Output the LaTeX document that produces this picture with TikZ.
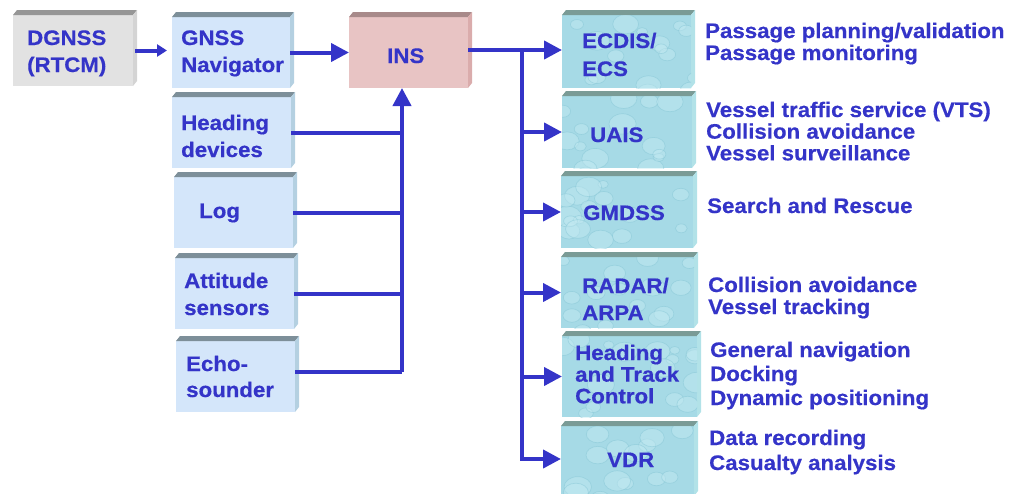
\documentclass[tikz,border=0pt]{standalone}
\usepackage{fontspec}
\setmainfont{Liberation Sans}[FakeStretch=1.06, BoldFeatures={FakeBold=0.5}]
\usetikzlibrary{arrows.meta}
\definecolor{ink}{RGB}{52,52,200}
\definecolor{grayF}{RGB}{226,226,226}
\definecolor{grayT}{RGB}{150,150,150}
\definecolor{grayS}{RGB}{212,212,212}
\definecolor{blueF}{RGB}{212,230,250}
\definecolor{blueT}{RGB}{125,143,153}
\definecolor{blueS}{RGB}{180,208,225}
\definecolor{pinkF}{RGB}{232,196,196}
\definecolor{pinkT}{RGB}{168,138,138}
\definecolor{pinkS}{RGB}{218,172,172}
\definecolor{tealF}{RGB}{166,218,230}
\definecolor{tealT}{RGB}{122,155,150}
\definecolor{tealS}{RGB}{178,226,232}
\definecolor{tealL}{RGB}{196,234,242}
\definecolor{tealD}{RGB}{130,196,212}
\newcommand\mltext[1]{\begin{tabular}[t]{@{}l@{}}#1\end{tabular}}
\newcommand\boxthree[8]{%
  \node[facebox, fill=#6, minimum width={(#4)-(#2)}, minimum height={(#5)-(#3)}] (#1) at ({((#2)+(#4))/2},{((#3)+(#5))/2}) {};
  \fill[#7] (#1.north west) -- ++(4,-5) -- ([shift={(4,-5)}]#1.north east) -- (#1.north east) -- cycle;
  \fill[#8] (#1.north east) -- ++(4,-5) -- ([shift={(4,-5)}]#1.south east) -- (#1.south east) -- cycle;
}
\newcommand\water[1]{%
  \begin{scope}
    \clip (#1.north west) rectangle (#1.south east);
    \begin{scope}[shift={(#1.north west)}]
      \foreach \i in {1,...,16}{%
        \pgfmathsetmacro\wx{rnd*135}%
        \pgfmathsetmacro\wy{rnd*80}%
        \pgfmathsetmacro\wr{5+rnd*9}%
        \draw[tealD, line width=0.7pt, fill=tealL, opacity=0.45] (\wx,\wy) ellipse [x radius=\wr, y radius=0.75*\wr];
      }
    \end{scope}
  \end{scope}
}
\tikzset{
  facebox/.style={rectangle, draw=none, inner sep=0pt, outer sep=0pt},
  txt/.style={font=\fontsize{21}{#1}\selectfont\bfseries, text=ink, anchor=base west, inner sep=0pt},
  conn/.style={draw=ink, line width=4pt},
  arr/.style={conn, -{Triangle[length=18pt,width=18pt]}},
  sarr/.style={conn, -{Triangle[length=10pt,width=12pt]}}
}
\begin{document}
\begin{tikzpicture}[x=1pt,y=-1pt]
\pgfmathsetseed{7}
\useasboundingbox (0,0) rectangle (1010,493);
% boxes
\boxthree{dgnss}{13}{15}{133}{86}{grayF}{grayT}{grayS}
\boxthree{gnss}{172}{17}{290}{88}{blueF}{blueT}{blueS}
\boxthree{ins}{349}{17}{468}{88}{pinkF}{pinkT}{pinkS}
\boxthree{head}{172}{97}{291}{168}{blueF}{blueT}{blueS}
\boxthree{log}{174}{177}{293}{248}{blueF}{blueT}{blueS}
\boxthree{att}{175}{258}{294}{329}{blueF}{blueT}{blueS}
\boxthree{echo}{176}{341}{295}{412}{blueF}{blueT}{blueS}
\boxthree{ecdis}{562}{15}{691}{88}{tealF}{tealT}{tealS}
\boxthree{uais}{562}{96}{692}{168}{tealF}{tealT}{tealS}
\boxthree{gmdss}{561}{176}{693}{248}{tealF}{tealT}{tealS}
\boxthree{radar}{561}{257}{694}{328}{tealF}{tealT}{tealS}
\boxthree{htc}{562}{336}{697}{417}{tealF}{tealT}{tealS}
\boxthree{vdr}{561}{426}{694}{496}{tealF}{tealT}{tealS}
\water{ecdis}\water{uais}\water{gmdss}\water{radar}\water{htc}\water{vdr}
% box texts
\node[txt=27] (t-dgnss) at (27,45) {\mltext{DGNSS\\(RTCM)}};
\node[txt=27] (t-gnss) at (181,45) {\mltext{GNSS\\Navigator}};
\node[txt=27] (t-ins) at (387,63) {INS};
\node[txt=27] (t-head) at (181,130) {\mltext{Heading\\devices}};
\node[txt=27] (t-log) at (199,218) {Log};
\node[txt=27] (t-att) at (184,288) {\mltext{Attitude\\sensors}};
\node[txt=26] (t-echo) at (186,371) {\mltext{Echo-\\sounder}};
\node[txt=28] (t-ecdis) at (582,48) {\mltext{ECDIS/\\ECS}};
\node[txt=27] (t-uais) at (590,142) {UAIS};
\node[txt=27] (t-gmdss) at (583,220) {GMDSS};
\node[txt=27] (t-radar) at (582,293) {\mltext{RADAR/\\ARPA}};
\node[txt=21.5] (t-htc) at (575,360) {\mltext{Heading\\and Track\\Control}};
\node[txt=27] (t-vdr) at (607,467) {VDR};
% descriptions
\node[txt=22] (d-ecdis) at (705,38) {\mltext{Passage planning/validation\\Passage monitoring}};
\node[txt=21.5] (d-uais) at (706,117) {\mltext{Vessel traffic service (VTS)\\Collision avoidance\\Vessel surveillance}};
\node[txt=22] (d-gmdss) at (707,213) {Search and Rescue};
\node[txt=22] (d-radar) at (708,292) {\mltext{Collision avoidance\\Vessel tracking}};
\node[txt=24] (d-htc) at (710,357) {\mltext{General navigation\\Docking\\Dynamic positioning}};
\node[txt=25] (d-vdr) at (709,445) {\mltext{Data recording\\Casualty analysis}};
% connectors
\coordinate (lb) at (402,372);
\coordinate (rb) at (522,50);
\draw[sarr] ([xshift=2pt]dgnss.east) -- ([xshift=-5pt]dgnss.east -| gnss.west);
\draw[arr] (gnss.east) -- (gnss.east -| ins.west);
\draw[conn] (head.east) -- (head.east -| lb);
\draw[conn] (log.east) -- (log.east -| lb);
\draw[conn] (att.east) -- (att.east -| lb);
\draw[conn] (echo.east |- lb) -- (lb);
\draw[arr] (lb) -- (lb |- ins.south);
\draw[arr] (rb -| ins.east) -- (rb -| ecdis.west);
\draw[arr] (rb |- uais.west) -- (uais.west);
\draw[arr] (rb |- gmdss.west) -- (gmdss.west);
\draw[arr] (rb |- radar.west) -- (radar.west);
\draw[arr] (rb |- htc.west) -- (htc.west);
\draw[arr] (rb) |- ([yshift=2pt]vdr.west);
\end{tikzpicture}
\end{document}
